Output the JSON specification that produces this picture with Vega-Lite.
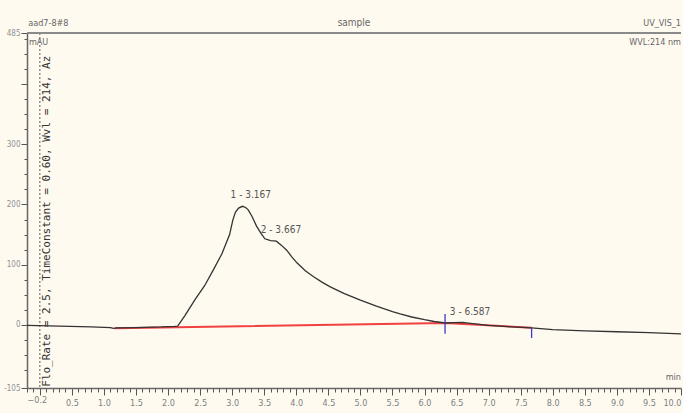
{
  "$schema": "https://vega.github.io/schema/vega-lite/v6.json",
  "width": 654,
  "height": 355,
  "autosize": {"type": "none"},
  "padding": {"left": 27, "top": 33, "right": 2, "bottom": 25},
  "background": "#fffaf0",
  "config": {"view": {"stroke": null}, "font": "DejaVu Sans Condensed", "axis": {"labelOverlap": false}},
  "datasets": {
    "signal": [
      {"t": -0.2, "v": -1}, {"t": 0.3, "v": -2}, {"t": 0.8, "v": -3.5}, {"t": 1.1, "v": -4.5},
      {"t": 1.15, "v": -6}, {"t": 1.2, "v": -5}, {"t": 1.5, "v": -4.5}, {"t": 1.9, "v": -3.5},
      {"t": 2.1, "v": -2.5}, {"t": 2.15, "v": -2}, {"t": 2.26, "v": 15}, {"t": 2.42, "v": 42},
      {"t": 2.57, "v": 65}, {"t": 2.7, "v": 90}, {"t": 2.84, "v": 118}, {"t": 2.96, "v": 150},
      {"t": 3.01, "v": 174}, {"t": 3.05, "v": 187}, {"t": 3.1, "v": 194}, {"t": 3.16, "v": 197},
      {"t": 3.21, "v": 195}, {"t": 3.25, "v": 191}, {"t": 3.31, "v": 180}, {"t": 3.38, "v": 164},
      {"t": 3.45, "v": 152}, {"t": 3.51, "v": 143}, {"t": 3.6, "v": 140}, {"t": 3.69, "v": 139},
      {"t": 3.77, "v": 132}, {"t": 3.85, "v": 124}, {"t": 3.93, "v": 113}, {"t": 4.01, "v": 103},
      {"t": 4.14, "v": 90}, {"t": 4.27, "v": 80}, {"t": 4.4, "v": 71}, {"t": 4.53, "v": 63},
      {"t": 4.75, "v": 52}, {"t": 5.0, "v": 41}, {"t": 5.25, "v": 31}, {"t": 5.5, "v": 22},
      {"t": 5.62, "v": 18}, {"t": 5.8, "v": 13}, {"t": 6.0, "v": 8.5}, {"t": 6.15, "v": 5.5},
      {"t": 6.33, "v": 3}, {"t": 6.45, "v": 3.5}, {"t": 6.59, "v": 4}, {"t": 6.75, "v": 2},
      {"t": 7.0, "v": -1}, {"t": 7.3, "v": -3}, {"t": 7.67, "v": -5}, {"t": 8.0, "v": -8},
      {"t": 8.5, "v": -10}, {"t": 9.0, "v": -11.5}, {"t": 9.5, "v": -13}, {"t": 10.0, "v": -15}
    ],
    "baseline": [
      {"t": 1.17, "v": -5.5}, {"t": 6.33, "v": 3}, {"t": 7.67, "v": -5}
    ],
    "peaks": [
      {"t": 3.29, "v": 215, "label": "1 - 3.167"},
      {"t": 3.76, "v": 158, "label": "2 - 3.667"},
      {"t": 6.71, "v": 21, "label": "3 - 6.587"}
    ],
    "markers": [
      {"t": 6.32, "v": 18, "v2": -15},
      {"t": 7.67, "v": -5, "v2": -22}
    ]
  },
  "encoding": {
    "x": {
      "field": "t", "type": "quantitative",
      "scale": {"domain": [-0.2, 10.0], "nice": false, "zero": false},
      "axis": {
        "title": null, "grid": false, "domainColor": "#666666", "domainWidth": 1.5,
        "tickColor": "#555555",
        "tickSize": {"condition": {"test": "round(datum.value*10) % 5 == 0", "value": 7}, "value": 4},
        "labelFont": "DejaVu Sans Condensed", "labelFontSize": 9, "labelColor": "#808080",
        "labelOverlap": false, "labelPadding": 3,
        "values": [-0.2,-0.1,0,0.1,0.2,0.3,0.4,0.5,0.6,0.7,0.8,0.9,1,1.1,1.2,1.3,1.4,1.5,1.6,1.7,1.8,1.9,2,2.1,2.2,2.3,2.4,2.5,2.6,2.7,2.8,2.9,3,3.1,3.2,3.3,3.4,3.5,3.6,3.7,3.8,3.9,4,4.1,4.2,4.3,4.4,4.5,4.6,4.7,4.8,4.9,5,5.1,5.2,5.3,5.4,5.5,5.6,5.7,5.8,5.9,6,6.1,6.2,6.3,6.4,6.5,6.6,6.7,6.8,6.9,7,7.1,7.2,7.3,7.4,7.5,7.6,7.7,7.8,7.9,8,8.1,8.2,8.3,8.4,8.5,8.6,8.7,8.8,8.9,9,9.1,9.2,9.3,9.4,9.5,9.6,9.7,9.8,9.9,10],
        "labelExpr": "((round(datum.value*10) % 5 == 0 && round(datum.value*10) != 0) || round(datum.value*10) == -2) ? format(datum.value, '.1f') : ''"
      }
    },
    "y": {
      "field": "v", "type": "quantitative",
      "scale": {"domain": [-105, 485], "nice": false, "zero": false},
      "axis": {
        "title": null, "grid": false, "domainColor": "#666666", "domainWidth": 1.5,
        "tickColor": "#555555",
        "tickSize": {"condition": {"test": "datum.value % 100 == 0 || datum.value == -105 || datum.value == 485", "value": 6}, "value": 3},
        "labelFont": "DejaVu Sans Condensed", "labelFontSize": 8, "labelColor": "#909090",
        "labelOverlap": false, "labelPadding": 1,
        "values": [-105,-75,-50,-25,0,25,50,75,100,125,150,175,200,225,250,275,300,325,350,375,400,425,450,475,485],
        "labelExpr": "datum.value == 485 ? '485' : (datum.value == -105 ? '-105' : ((datum.value % 100 == 0 && datum.value >= 0 && datum.value < 400) ? format(datum.value, 'd') : ''))"
      }
    }
  },
  "layer": [
    {
      "data": {"values": [{"t": 0, "v": 485, "v2": -105}]},
      "mark": {"type": "rule", "color": "#777777", "strokeDash": [2, 2], "strokeWidth": 1.2},
      "encoding": {"y2": {"field": "v2"}}
    },
    {
      "data": {"values": [{"t": -0.2, "t2": 10.0, "v": 485}]},
      "mark": {"type": "rule", "color": "#8a8a8a", "strokeWidth": 2},
      "encoding": {"x2": {"field": "t2"}}
    },
    {
      "data": {"name": "baseline"},
      "mark": {"type": "line", "color": "#f04040", "strokeWidth": 2},
      "encoding": {}
    },
    {
      "data": {"name": "signal"},
      "mark": {"type": "line", "color": "#333333", "strokeWidth": 1.3},
      "encoding": {}
    },
    {
      "data": {"name": "markers"},
      "mark": {"type": "rule", "color": "#3a3acc", "strokeWidth": 1.3},
      "encoding": {"y2": {"field": "v2"}}
    },
    {
      "data": {"name": "peaks"},
      "mark": {"type": "text", "color": "#555555", "fontSize": 10, "font": "DejaVu Sans Condensed", "align": "center", "baseline": "middle"},
      "encoding": {"text": {"field": "label"}}
    },
    {
      "data": {"values": [{"t": 0.11, "v": -103, "label": "Flo_Rate = 2.5, TimeConstant = 0.60, Wvl = 214, Az"}]},
      "mark": {"type": "text", "color": "#333333", "fontSize": 11, "font": "DejaVu Sans Mono", "angle": 270, "align": "left", "baseline": "middle"},
      "encoding": {"text": {"field": "label"}}
    },
    {
      "data": {"values": [{"t": -0.18, "v": 502, "label": "aad7-8#8"}, {"t": -0.17, "v": 470, "label": "mAU"}]},
      "mark": {"type": "text", "color": "#666666", "fontSize": 9, "font": "DejaVu Sans Condensed", "align": "left", "baseline": "middle"},
      "encoding": {"text": {"field": "label"}}
    },
    {
      "data": {"values": [{"t": 4.9, "v": 502, "label": "sample"}]},
      "mark": {"type": "text", "color": "#666666", "fontSize": 10, "font": "DejaVu Sans Condensed", "align": "center", "baseline": "middle"},
      "encoding": {"text": {"field": "label"}}
    },
    {
      "data": {"values": [{"t": 10.0, "v": 502, "label": "UV_VIS_1"}, {"t": 10.0, "v": 470, "label": "WVL:214 nm"}, {"t": 10.0, "v": -87, "label": "min"}]},
      "mark": {"type": "text", "color": "#666666", "fontSize": 9, "font": "DejaVu Sans Condensed", "align": "right", "baseline": "middle"},
      "encoding": {"text": {"field": "label"}}
    }
  ]
}
